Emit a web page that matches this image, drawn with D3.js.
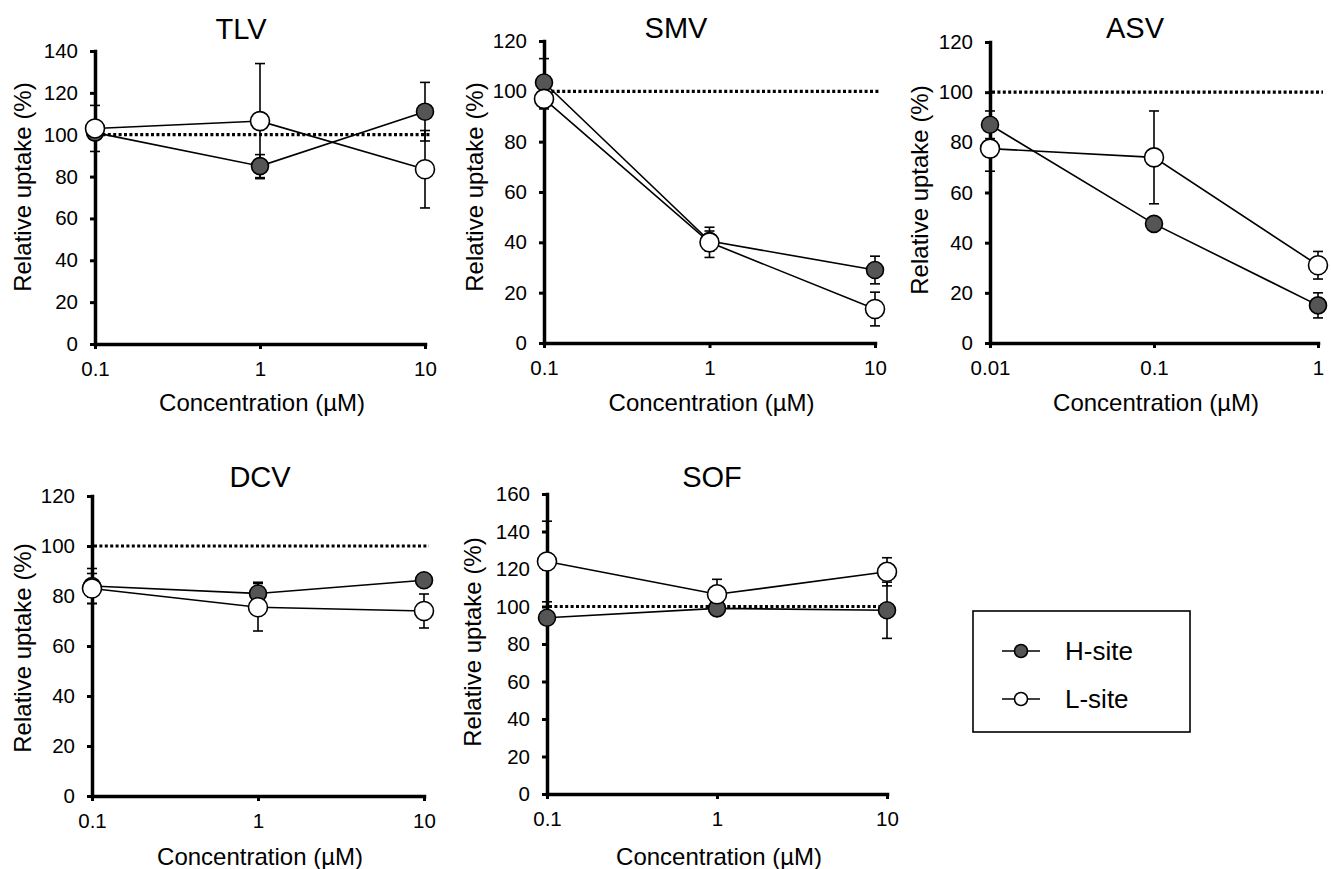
<!DOCTYPE html>
<html>
<head>
<meta charset="utf-8">
<script src="https://cdn.jsdelivr.net/npm/d3@7"></script>
<style>
  body { margin: 0; background: #fff; }
  text { font-family: "Liberation Sans", Arial, sans-serif; fill: #000; }
</style>
</head>
<body>
<svg id="chart" width="1331" height="869"></svg>
<script>
// ---- data (relative uptake, %) ----
const panelNames = ["TLV", "SMV", "ASV", "DCV", "SOF"];

const concTLV = [0.1, 1, 10];
const tlvH = [101, 85, 111];       const tlvHErr = [3, 5.5, 14];
const tlvL = [103, 106.5, 83.5];   const tlvLErr = [11, 27.5, 18.5];

const concSMV = [0.1, 1, 10];
const smvH = [103.5, 40.5, 29];    const smvHErr = [9.5, 4, 5.5];
const smvL = [97, 40, 13.5];       const smvLErr = [4, 6, 6.7];

const concASV = [0.01, 0.1, 1];
const asvH = [87, 47.5, 15];       const asvHErr = [5.5, 2, 5];
const asvL = [77.5, 74, 31];       const asvLErr = [9, 18.5, 5.5];

const concDCV = [0.1, 1, 10];
const dcvH = [84, 81, 86.3];       const dcvHErr = [7, 4.5, 2];
const dcvL = [83, 75.5, 74];       const dcvLErr = [6, 9.5, 6.8];

const concSOF = [0.1, 1, 10];
const sofH = [94, 99, 98];         const sofHErr = [2, 2, 15];
const sofL = [124, 106.5, 118.5];  const sofLErr = [21.5, 8, 7.5];

const yMaxes = [140, 120, 120, 120, 160];
const seriesNames = ["H-site", "L-site"];
const controlLevel = 100;

// ---- layout of each panel (pixel boxes) ----
const boxes = [
  { left: 95,  right: 425,  top: 51,  bottom: 344, tx: 241,  ty: 39,  lx: 31,  ly: 187, xy: 411 },
  { left: 544, right: 875,  top: 41,  bottom: 343, tx: 676,  ty: 38,  lx: 483, ly: 187, xy: 411 },
  { left: 990, right: 1318, top: 42,  bottom: 343, tx: 1135, ty: 38,  lx: 928, ly: 190, xy: 411 },
  { left: 92,  right: 424,  top: 496, bottom: 796, tx: 260,  ty: 487, lx: 31,  ly: 648, xy: 865 },
  { left: 547, right: 887,  top: 494, bottom: 794, tx: 712,  ty: 487, lx: 481, ly: 642, xy: 865 }
];

const concs = [concTLV, concSMV, concASV, concDCV, concSOF];
const hVals = [tlvH, smvH, asvH, dcvH, sofH];
const hErrs = [tlvHErr, smvHErr, asvHErr, dcvHErr, sofHErr];
const lVals = [tlvL, smvL, asvL, dcvL, sofL];
const lErrs = [tlvLErr, smvLErr, asvLErr, dcvLErr, sofLErr];

const svg = d3.select("#chart");
const hFill = "#555555";

panelNames.forEach((name, i) => {
  const b = boxes[i];
  const conc = concs[i];
  const g = svg.append("g");

  const x = d3.scaleLog().domain([conc[0], conc[conc.length - 1]]).range([b.left, b.right]);
  const y = d3.scaleLinear().domain([0, yMaxes[i]]).range([b.bottom, b.top]);

  // y axis
  const yAxis = g.append("g")
    .attr("transform", `translate(${b.left},0)`)
    .call(d3.axisLeft(y).tickValues(d3.range(0, yMaxes[i] + 1, 20)).tickSize(5).tickSizeOuter(0).tickPadding(12));
  yAxis.select(".domain").attr("stroke", "#000").attr("stroke-width", 3.5);
  yAxis.selectAll(".tick line").attr("stroke", "#000").attr("stroke-width", 3);
  yAxis.selectAll(".tick text").attr("font-size", 20.5).attr("fill", "#000");

  // x axis
  const xAxis = g.append("g")
    .attr("transform", `translate(0,${b.bottom})`)
    .call(d3.axisBottom(x).tickValues(conc).tickFormat(d => String(d)).tickSize(5).tickSizeOuter(0).tickPadding(12));
  xAxis.select(".domain").attr("stroke", "#000").attr("stroke-width", 3.5);
  xAxis.selectAll(".tick line").attr("stroke", "#000").attr("stroke-width", 3);
  xAxis.selectAll(".tick text").attr("font-size", 20.5).attr("fill", "#000");
  svg.selectAll(".domain").attr("stroke-linecap", "square");

  // dotted 100% control line
  g.append("line")
    .attr("x1", b.left + 2).attr("x2", b.right + 5)
    .attr("y1", y(controlLevel)).attr("y2", y(controlLevel))
    .attr("stroke", "#000").attr("stroke-width", 3.2)
    .attr("stroke-dasharray", "3,2.4");

  const series = [
    { vals: hVals[i], errs: hErrs[i], fill: hFill, r: 8.5 },
    { vals: lVals[i], errs: lErrs[i], fill: "#fff", r: 9.5 }
  ];

  // connecting lines
  series.forEach(s => {
    const pts = conc.map((c, j) => [x(c), y(s.vals[j])]);
    g.append("path")
      .attr("d", d3.line()(pts))
      .attr("fill", "none").attr("stroke", "#000").attr("stroke-width", 1.6);
  });

  // error bars (symmetric, drawn behind markers)
  series.forEach(s => {
    conc.forEach((c, j) => {
      const cx = x(c);
      const hi = y(s.vals[j] + s.errs[j]);
      const lo = y(s.vals[j] - s.errs[j]);
      g.append("line").attr("x1", cx).attr("x2", cx).attr("y1", hi).attr("y2", lo)
        .attr("stroke", "#000").attr("stroke-width", 1.6);
      [hi, lo].forEach(yy => {
        g.append("line").attr("x1", cx - 5).attr("x2", cx + 5).attr("y1", yy).attr("y2", yy)
          .attr("stroke", "#000").attr("stroke-width", 1.6);
      });
    });
  });

  // markers: H-site first, L-site on top
  series.forEach(s => {
    g.selectAll(null)
      .data(conc.map((c, j) => [c, s.vals[j]]))
      .join("circle")
      .attr("cx", d => x(d[0]))
      .attr("cy", d => y(d[1]))
      .attr("r", s.r)
      .attr("fill", s.fill)
      .attr("stroke", "#000").attr("stroke-width", 1.6);
  });

  // titles
  g.append("text").attr("x", b.tx).attr("y", b.ty)
    .attr("text-anchor", "middle").attr("font-size", 29).text(name);
  g.append("text")
    .attr("transform", `translate(${b.lx},${b.ly}) rotate(-90)`)
    .attr("text-anchor", "middle").attr("font-size", 24).text("Relative uptake (%)");
  g.append("text").attr("x", (b.left + b.right) / 2 + 2).attr("y", b.xy)
    .attr("text-anchor", "middle").attr("font-size", 24).text("Concentration (µM)");
});

// ---- legend ----
const legend = svg.append("g");
legend.append("rect")
  .attr("x", 973).attr("y", 611).attr("width", 217).attr("height", 121)
  .attr("fill", "#fff").attr("stroke", "#000").attr("stroke-width", 1.6);

const legendY = d3.scalePoint().domain(seriesNames).range([651, 699]);
seriesNames.forEach((s, i) => {
  const ly = legendY(s);
  legend.append("line").attr("x1", 1002).attr("x2", 1040).attr("y1", ly).attr("y2", ly)
    .attr("stroke", "#000").attr("stroke-width", 1.6);
  legend.append("circle").attr("cx", 1021).attr("cy", ly).attr("r", 6.5)
    .attr("fill", i === 0 ? hFill : "#fff").attr("stroke", "#000").attr("stroke-width", 1.6);
  legend.append("text").attr("x", 1065).attr("y", ly + 9)
    .attr("font-size", 26).text(s);
});
</script>
</body>
</html>
